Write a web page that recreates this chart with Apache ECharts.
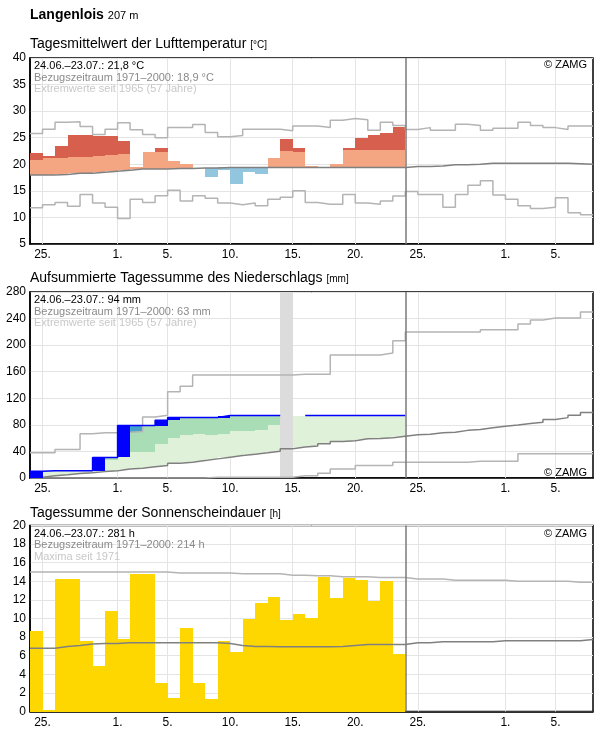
<!DOCTYPE html>
<html>
<head>
<meta charset="utf-8">
<title>Langenlois</title>
<script src="https://cdn.jsdelivr.net/npm/echarts@6/dist/echarts.min.js"></script>
<style>
  html, body { margin: 0; padding: 0; background: #fff; }
  #chart { width: 596px; height: 729px; }
</style>
</head>
<body>
<div id="chart"></div>
<script>
// Tage ab 24.06. (Index 0) bis 07.08. (Index 44), gemessen bis 23.07. (Index 29)
var dayTicks = [1, 7, 11, 16, 21, 26, 31, 38, 42];
var dayLabels = ['25.', '1.', '5.', '10.', '15.', '20.', '25.', '1.', '5.'];
var today = 30;

// Lufttemperatur [°C]
var tempActual = [22.2, 21.6, 23.4, 25.6, 25.6, 25.3, 25.3, 24.3, 19.4, 22.3,
                  23.0, 20.7, 20.1, 19.3, 17.7, 19.0, 16.3, 18.5, 18.1, 21.1,
                  24.7, 23.0, 19.6, 19.4, 20.05, 23.05, 24.9, 25.55, 25.9, 27.0];
var tempUpper = [20.9, 21.1, 21.2, 21.4, 21.4, 21.6, 21.8, 22.0, 22.1, 22.3,
                 22.3, 22.4, 22.4, 22.4, 22.5, 22.5, 22.5, 22.5, 22.5, 22.5,
                 22.5, 22.3, 22.3, 22.4, 22.5, 22.6, 22.6, 22.6, 22.6, 22.6];
var tempMean = [18.0, 18.0, 18.1, 18.3, 18.3, 18.5, 18.7, 18.9, 19.1, 19.1,
                19.1, 19.2, 19.2, 19.3, 19.3, 19.4, 19.4, 19.4, 19.4, 19.4,
                19.4, 19.4, 19.4, 19.4, 19.4, 19.4, 19.4, 19.4, 19.4, 19.4,
                19.6, 19.6, 19.7, 19.9, 19.9, 20.0, 20.2, 20.2, 20.2, 20.2,
                20.2, 20.2, 20.2, 20.1, 20.0];
var tempMax = [25.8, 26.6, 27.9, 28.0, 27.1, 25.6, 26.6, 27.8, 26.5, 25.6,
               25.0, 26.9, 26.9, 27.5, 26.0, 25.2, 25.4, 26.6, 26.6, 26.6,
               26.3, 27.2, 27.2, 26.9, 28.3, 28.6, 28.4, 26.4, 27.9, 27.3,
               26.55, 26.9, 26.4, 26.4, 27.55, 27.3, 26.4, 26.8, 26.8, 27.9,
               27.3, 26.9, 26.55, 27.2, 27.2];
var tempMin = [11.8, 12.4, 12.8, 12.1, 14.3, 12.7, 11.9, 9.8, 13.4, 12.8,
               14.1, 15.1, 13.1, 14.1, 13.6, 12.7, 12.4, 12.7, 12.2, 13.4,
               13.8, 15.0, 12.8, 12.5, 12.5, 14.3, 12.7, 12.5, 13.1, 14.05,
               14.9, 14.3, 14.3, 11.9, 14.3, 16.05, 16.9, 14.2, 13.4, 12.2,
               11.7, 11.9, 13.7, 10.9, 10.5];

// Niederschlag, aufsummiert [mm]
var precipSum = [10, 11, 11, 11, 11, 31, 31, 79, 79, 79,
                 87, 91, 91, 91, 91, 94, 94, 94, 94, 94,
                 94, 94, 94, 94, 94, 94, 94, 94, 94, 94];
var precipLevel = [null, null, null, null, null, null, 27, 33, 39, 39,
                   50.5, 60.6, 64, 65.7, 64, 65.7, 70.2, 71.2, 72.7, 79.3,
                   null, null, null, null, null, null, null, null, null, null];
var precipBlend = [[8, 70, 78]];
var precipGap = [20];
var precipMean = [1, 3.5, 5, 6.6, 8, 9.6, 11, 13.6, 14.6, 17,
                  18.7, 22.2, 23.7, 26.3, 28.8, 31.3, 33.8, 35.9, 37.9, 40.4,
                  44, 46.5, 48, 51.5, 55, 56, 59, 59.5, 60.6, 63,
                  65, 66, 68, 69, 71.7, 73, 75.8, 78, 79.8, 82,
                  84, 87.9, 90.9, 94.4, 98.5];
var precipMax = [38, 38, 43, 43, 66.7, 68, 68, 69, 70, 92,
                 94.5, 130, 138, 155, 155, 155, 155, 155, 155, 155,
                 155, 156, 156, 156, 185, 185, 185, 185, 188, 206.6,
                 219.7, 219.7, 219.7, 219.7, 219.7, 219.7, 223, 223, 223, 232,
                 238, 241, 241, 241, 250];
var precipMin = [0, 0, 0, 0, 0, 0, 0, 0, 0, 0,
                 0, 0, 0, 0, 1, 1, 1, 1, 1, 1,
                 1, 3.5, 3.5, 7, 13.6, 13.6, 18.7, 18.7, 18.7, 23.7,
                 23.7, 23.7, 23.7, 23.7, 23.7, 25.3, 25.3, 25.3, 25.3, 36.4,
                 36.4, 36.4, 36.4, 36.4, 36.4];

// Sonnenscheindauer [h]
var sunHours = [8.65, 0.2, 14.2, 14.3, 7.6, 4.9, 10.8, 7.8, 14.8, 14.8,
                3.1, 1.5, 9.0, 3.1, 1.3, 7.6, 6.4, 9.95, 11.7, 12.3,
                9.85, 10.5, 10.05, 14.5, 12.2, 14.4, 14.1, 11.9, 14.05, 6.2];
var sunMean = [6.8, 6.8, 7.0, 7.1, 7.25, 7.3, 7.3, 7.4, 7.4, 7.4,
               7.4, 7.4, 7.4, 7.4, 7.4, 7.3, 7.1, 7.0, 7.0, 6.95,
               6.95, 6.95, 6.95, 6.95, 7.0, 7.1, 7.2, 7.2, 7.2, 7.2,
               7.4, 7.4, 7.5, 7.5, 7.5, 7.5, 7.5, 7.6, 7.6, 7.6,
               7.6, 7.6, 7.6, 7.6, 7.75];
var sunMax = [15.0, 15.0, 15.0, 15.0, 15.0, 15.0, 15.0, 15.0, 15.0, 15.0,
              15.0, 14.9, 14.9, 14.9, 14.9, 14.9, 14.8, 14.8, 14.8, 14.8,
              14.65, 14.65, 14.6, 14.6, 14.5, 14.5, 14.5, 14.4, 14.4, 14.4,
              14.25, 14.25, 14.25, 14.1, 14.1, 14.1, 14.1, 14.1, 14.0, 14.0,
              14.0, 14.0, 14.0, 13.9, 13.9];

var FONT = '"Liberation Sans", Arial, sans-serif';
var chart = echarts.init(document.getElementById('chart'));

// Treppenlinie: Wert gilt fuer den ganzen Tag
function steps(arr, from, to) {
    var d = [];
    for (var i = from; i < to; i++) d.push([i, arr[i]]);
    d.push([to, arr[to - 1]]);
    return d;
}

function stepLine(gi, data, color, width, z) {
    return {
        type: 'line', xAxisIndex: gi, yAxisIndex: gi, step: 'end',
        data: data, symbol: 'none', silent: true, z: z,
        lineStyle: {color: color, width: width}
    };
}

// Tagesbalken als Rechteck [tag, von, bis], auf ganze Pixel gerundet
function dayRects(gi, items, color, z) {
    return {
        type: 'custom', xAxisIndex: gi, yAxisIndex: gi, z: z, silent: true,
        data: items,
        encode: {x: 0, y: [1, 2]},
        renderItem: function (params, api) {
            var p0 = api.coord([api.value(0), api.value(1)]);
            var p1 = api.coord([api.value(0) + 1, api.value(2)]);
            var x0 = Math.round(p0[0]), x1 = Math.round(p1[0]);
            var y0 = Math.round(p0[1]), y1 = Math.round(p1[1]);
            return {
                type: 'rect',
                shape: {x: x0, y: y1, width: x1 - x0, height: y0 - y1},
                style: {fill: color}
            };
        }
    };
}

// senkrechte Gitterlinien (unter den Balken) und "heute"-Linie
function guides(gi) {
    return [{
        type: 'line', xAxisIndex: gi, yAxisIndex: gi, data: [], z: 1, silent: true,
        markLine: {
            z: 1,
            symbol: 'none', silent: true, animation: false,
            label: {show: false},
            lineStyle: {color: '#e4e4e4', width: 1, type: 'solid'},
            data: dayTicks.map(function (d) { return {xAxis: d}; })
        }
    }, {
        type: 'line', xAxisIndex: gi, yAxisIndex: gi, data: [], z: 6, silent: true,
        markLine: {
            z: 6,
            symbol: 'none', silent: true, animation: false,
            label: {show: false},
            lineStyle: {color: '#7a7a7a', width: 1.5, type: 'solid'},
            data: [{xAxis: today}]
        }
    }];
}

// Temperatur-Balken
var tempWarm = [], tempHot = [], tempCold = [];
for (var i = 0; i < tempActual.length; i++) {
    var tm = tempMean[i], ta = tempActual[i], tu = tempUpper[i];
    if (ta > tm) {
        tempWarm.push([i, tm, Math.min(ta, tu)]);
        if (ta > tu) tempHot.push([i, tu, ta]);
    } else if (ta < tm) {
        tempCold.push([i, ta, tm]);
    }
}

// Niederschlag-Flaechen
var rainLight = [], rainMid = [], rainNew = [];
for (var i = 0; i < precipSum.length; i++) {
    var rs = precipSum[i], rl = precipLevel[i];
    var lightTop = (rl == null) ? rs : Math.min(rl, rs);
    rainLight.push([i, precipMean[i], lightTop]);
    if (rl != null && rl < rs) rainMid.push([i, rl, rs]);
    var rainPrev = i > 0 ? precipSum[i - 1] : 0;
    if (rs > rainPrev) rainNew.push([i, rainPrev, rs]);
}
var rainGap = precipGap.map(function (d) { return [d, 0, 280]; });

// Sonne
var sunBars = sunHours.map(function (v, i) { return [i, 0, v]; });

var gridTops = [58, 292, 525.5];
var yRanges = [[5, 40, 5], [0, 280, 40], [0, 20, 2]];

function titleStyle(bold, small) {
    return {
        fontSize: 14, fontWeight: bold ? 'bold' : 'normal', color: '#000', fontFamily: FONT,
        rich: {u: {fontSize: small, fontWeight: 'normal', color: '#000', fontFamily: FONT,
            verticalAlign: 'bottom', padding: [0, 0, 1, 0]}}
    };
}

var option = {
    animation: false,
    backgroundColor: '#fff',
    textStyle: {fontFamily: FONT},
    title: [
        {text: 'Langenlois {u|207 m}', left: 30, top: 8, padding: 0, textStyle: titleStyle(true, 11)},
        {text: 'Tagesmittelwert der Lufttemperatur {u|[°C]}', left: 30, top: 37, padding: 0, textStyle: titleStyle(false, 10)},
        {text: 'Aufsummierte Tagessumme des Niederschlags {u|[mm]}', left: 30, top: 271, padding: 0, textStyle: titleStyle(false, 10)},
        {text: 'Tagessumme der Sonnenscheindauer {u|[h]}', left: 30, top: 506, padding: 0, textStyle: titleStyle(false, 10)}
    ],
    grid: gridTops.map(function (t) {
        return {left: 30, right: 3, top: t, height: 186, show: true,
            borderColor: '#000', borderWidth: 1.5};
    }),
    xAxis: [0, 1, 2].map(function (gi) {
        return {
            gridIndex: gi, type: 'value', min: 0, max: 45, interval: 1,
            axisLine: {show: true, onZero: false, lineStyle: {color: '#000', width: 1.5}},
            axisTick: {show: false},
            splitLine: {show: false},
            axisLabel: {
                color: '#000', fontSize: 12, margin: 5, fontFamily: FONT,
                formatter: function (v) {
                    var k = dayTicks.indexOf(v);
                    return k >= 0 ? dayLabels[k] : '';
                }
            }
        };
    }),
    yAxis: [0, 1, 2].map(function (gi) {
        var r = yRanges[gi];
        return {
            gridIndex: gi, type: 'value', min: r[0], max: r[1], interval: r[2],
            axisLine: {show: true, lineStyle: {color: '#000', width: 1.5}},
            axisTick: {show: false},
            splitLine: {lineStyle: {color: '#e4e4e4', width: 1}},
            axisLabel: {color: '#000', fontSize: 12, margin: 4, fontFamily: FONT}
        };
    }),
    series: [].concat(
        guides(0), guides(1), guides(2),
        // Temperatur
        [
            dayRects(0, tempWarm, '#f4a582', 2),
            dayRects(0, tempHot, '#d6604d', 2),
            dayRects(0, tempCold, '#92c5de', 2),
            stepLine(0, steps(tempMax, 0, 45), '#b4b4b4', 1.5, 3),
            stepLine(0, steps(tempMin, 0, 45), '#b4b4b4', 1.5, 3),
            stepLine(0, steps(tempMean, 0, 45), '#808080', 1.5, 4)
        ],
        // Niederschlag
        [
            dayRects(1, rainLight, '#dff2d9', 2),
            dayRects(1, rainMid, '#a8ddb5', 2),
            dayRects(1, precipBlend, '#43a2ca', 2),
            dayRects(1, rainGap, '#dcdcdc', 2),
            stepLine(1, steps(precipMax, 0, 45), '#b4b4b4', 1.5, 3),
            stepLine(1, steps(precipMin, 0, 45), '#b4b4b4', 1.5, 3),
            stepLine(1, steps(precipMean, 0, 45), '#808080', 1.5, 3),
            dayRects(1, rainNew, '#0000ff', 4),
            stepLine(1, steps(precipSum, 0, 20), '#0000ff', 1.5, 5),
            stepLine(1, steps(precipSum, 22, 30), '#0000ff', 1.5, 5)
        ],
        // Sonnenschein
        [
            dayRects(2, sunBars, '#ffd700', 2),
            stepLine(2, steps(sunMax, 0, 45), '#b4b4b4', 1.5, 3),
            stepLine(2, steps(sunMean, 0, 45), '#808080', 1.5, 3)
        ]
    ),
    graphic: []
};

// Beschriftungen im Diagramm
var infoLines = [
    ['24.06.–23.07.: 21,8 °C', 'Bezugszeitraum 1971–2000: 18,9 °C', 'Extremwerte seit 1965 (57 Jahre)'],
    ['24.06.–23.07.: 94 mm', 'Bezugszeitraum 1971–2000: 63 mm', 'Extremwerte seit 1965 (57 Jahre)'],
    ['24.06.–23.07.: 281 h', 'Bezugszeitraum 1971–2000: 214 h', 'Maxima seit 1971']
];
var infoColors = ['#000', '#8a8a8a', '#c8c8c8'];
var zamgY = [65, 472.5, 533.5];
infoLines.forEach(function (lines, gi) {
    lines.forEach(function (t, k) {
        option.graphic.push({
            type: 'text', x: 34, y: gridTops[gi] + 8.3 + k * 11.5, z: 100, silent: true,
            style: {text: t, fill: infoColors[k], font: '11px ' + FONT, verticalAlign: 'middle'}
        });
    });
    option.graphic.push({
        type: 'text', x: 587, y: zamgY[gi], z: 100, silent: true,
        style: {text: '© ZAMG', fill: '#000', font: '11px ' + FONT, align: 'right', verticalAlign: 'middle'}
    });
});

chart.setOption(option);
</script>
</body>
</html>
